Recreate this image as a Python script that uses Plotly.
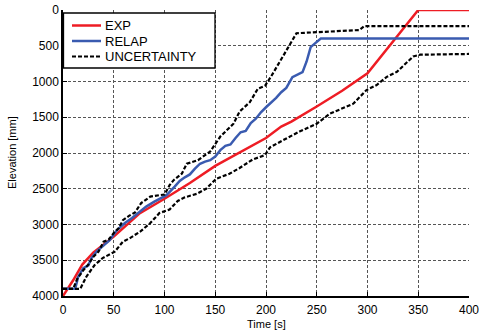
import plotly.graph_objects as go

# EXP (red)
exp_t = [0, 10, 19, 30, 50, 75, 100, 125, 150, 175, 200, 215, 225, 250, 275, 300, 325, 350, 400]
exp_e = [4000, 3780, 3560, 3390, 3170, 2850, 2640, 2420, 2180, 1990, 1790, 1630, 1560, 1350, 1130, 885, 440, 0, 0]

# RELAP (blue)
relap_t = [0, 12, 15, 20, 25, 28, 33, 39, 46, 53, 61, 68, 76, 82, 90, 96, 102, 110, 115, 120, 125, 130,
           135, 140, 145, 150, 155, 160, 165, 170, 175, 180, 185, 190, 195, 200, 205, 210, 215, 220,
           226, 230, 236, 240, 244, 248, 254, 400]
relap_e = [3900, 3900, 3730, 3610, 3570, 3470, 3380, 3310, 3220, 3080, 2980, 2910, 2820, 2750, 2680, 2630,
           2590, 2470, 2390, 2340, 2300, 2220, 2150, 2120, 2100, 2050, 1960, 1900, 1880, 1790, 1710, 1690,
           1580, 1520, 1430, 1360, 1300, 1230, 1150, 1090, 940, 910, 870, 720, 520, 470, 400, 400]

# UNCERTAINTY upper bound
up_t = [0, 10, 14, 20, 25, 30, 35, 40, 45, 50, 55, 59, 65, 71, 77, 86, 95, 100, 105, 109, 117, 122, 133,
        145, 155, 168, 174, 184, 192, 199, 205, 214, 222, 230, 270, 292, 297, 400]
up_e = [3900, 3900, 3760, 3640, 3560, 3450, 3380, 3240, 3210, 3120, 3050, 2940, 2880, 2830, 2700, 2610,
        2590, 2580, 2450, 2380, 2290, 2150, 2100, 1980, 1770, 1590, 1420, 1290, 1100, 1060, 930, 720,
        520, 325, 300, 280, 225, 225]

# UNCERTAINTY lower bound
lo_t = [0, 17, 23, 31, 39, 51, 59, 66, 76, 86, 95, 100, 105, 113, 120, 132, 141, 151, 164, 174, 187, 199,
        204, 217, 233, 250, 263, 286, 299, 309, 319, 329, 345, 352, 400]
lo_e = [3900, 3900, 3730, 3570, 3470, 3380, 3240, 3190, 3100, 2980, 2840, 2810, 2790, 2670, 2620, 2570,
        2500, 2360, 2290, 2210, 2090, 2030, 1920, 1820, 1700, 1590, 1450, 1310, 1120, 1050, 935, 865,
        650, 625, 615]

x_ticks = [0, 50, 100, 150, 200, 250, 300, 350, 400]
y_ticks = [0, 500, 1000, 1500, 2000, 2500, 3000, 3500, 4000]

legend_names = ["EXP", "RELAP", "UNCERTAINTY"]
legend_colors = ["#ee1c24", "#3a5bb0", "black"]
legend_dash = ["solid", "solid", "4px,2px"]

W, H = 482, 333
ML, MR, MT, MB = 63, 13, 10, 37
PW, PH = W - ML - MR, H - MT - MB


def px_x(p):
    return (p - ML) / PW


def px_y(p):
    return (H - MB - p) / PH


fig = go.Figure()
fig.add_trace(go.Scatter(x=exp_t, y=exp_e, mode="lines", name="EXP",
                         line=dict(color="#ee1c24", width=2.5)))
fig.add_trace(go.Scatter(x=relap_t, y=relap_e, mode="lines", name="RELAP",
                         line=dict(color="#3a5bb0", width=2.5)))
fig.add_trace(go.Scatter(x=up_t, y=up_e, mode="lines", name="UNCERTAINTY",
                         line=dict(color="black", width=2.2, dash="4px,2px")))
fig.add_trace(go.Scatter(x=lo_t, y=lo_e, mode="lines", name="UNCERTAINTY lower",
                         line=dict(color="black", width=2.2, dash="4px,2px")))

font = "Liberation Sans, Arial, sans-serif"

# manual legend box
shapes = [dict(type="rect", xref="paper", yref="paper",
               x0=px_x(63.5), x1=px_x(215), y0=px_y(68), y1=px_y(13),
               line=dict(color="black", width=1.3), fillcolor="white", layer="above")]
annotations = []
row_y = [25.5, 41, 56.5]
for name, col, dsh, ry in zip(legend_names, legend_colors, legend_dash, row_y):
    shapes.append(dict(type="line", xref="paper", yref="paper",
                       x0=px_x(72), x1=px_x(101), y0=px_y(ry), y1=px_y(ry),
                       line=dict(color=col, width=2.5 if dsh == "solid" else 2.2, dash=dsh),
                       layer="above"))
    annotations.append(dict(text=name, xref="paper", yref="paper", x=px_x(103), y=px_y(ry),
                            xanchor="left", yanchor="middle", showarrow=False,
                            font=dict(family=font, size=13, color="black")))

# axis titles
annotations.append(dict(text="Time [s]", xref="paper", yref="paper", x=0.5, y=0,
                        yshift=-28, xanchor="center", yanchor="middle", showarrow=False,
                        font=dict(family=font, size=11, color="black")))
annotations.append(dict(text="Elevation [mm]", xref="paper", yref="paper", x=0, y=0.5,
                        xshift=-51, xanchor="center", yanchor="middle", textangle=-90,
                        showarrow=False, font=dict(family=font, size=11, color="black")))

fig.update_layout(
    width=W, height=H,
    margin=dict(l=ML, r=MR, t=MT, b=MB),
    paper_bgcolor="white", plot_bgcolor="white",
    font=dict(family=font, size=12, color="black"),
    showlegend=False,
    shapes=shapes,
    annotations=annotations,
    xaxis=dict(range=[0, 400], tickvals=x_ticks, ticktext=[str(v) for v in x_ticks],
               showgrid=True, gridcolor="#555", griddash="3px,2px", gridwidth=1,
               showline=True, linecolor="black", linewidth=1.5,
               ticks="inside", ticklen=4, tickcolor="black", zeroline=False,
               ticklabelstandoff=2, automargin=False,
               tickfont=dict(size=12)),
    yaxis=dict(range=[4000, 0], tickvals=y_ticks, ticktext=[str(v) for v in y_ticks],
               showgrid=True, gridcolor="#555", griddash="3px,2px", gridwidth=1,
               showline=True, linecolor="black", linewidth=1.5,
               ticks="inside", ticklen=4, tickcolor="black", zeroline=False,
               automargin=False,
               tickfont=dict(size=12)),
)

fig.write_html("out.html")
